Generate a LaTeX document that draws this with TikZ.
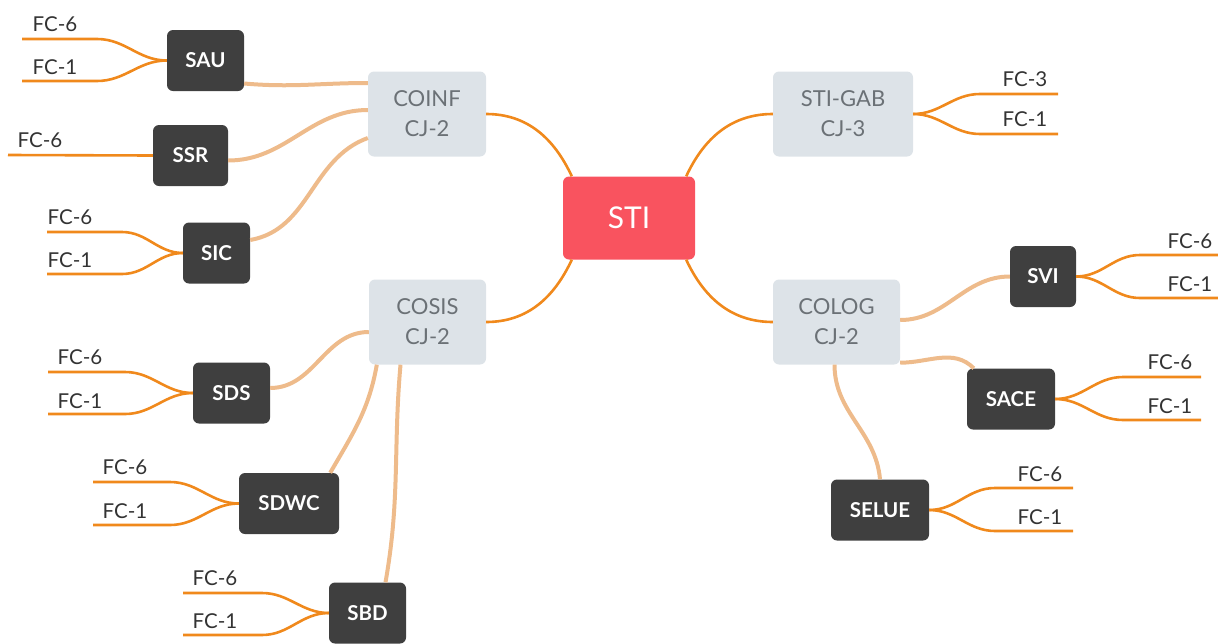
\documentclass[tikz,border=0pt]{standalone}
\usepackage{fontspec}
\setmainfont{Lato}
\definecolor{orng}{HTML}{F0891C}
\definecolor{tan}{HTML}{EEBB8B}
\definecolor{darkbox}{HTML}{3F3F3F}
\definecolor{graybox}{HTML}{DDE3E8}
\definecolor{graytxt}{HTML}{6B7176}
\definecolor{redbox}{HTML}{F9535F}
\definecolor{leaftxt}{HTML}{333333}
\begin{document}
\begin{tikzpicture}[x=1pt,y=-1pt,
  root/.style={fill=redbox,rounded corners=6pt,minimum width=132pt,minimum height=83pt,text=white,font=\fontsize{30}{32}\selectfont},
  mid/.style={fill=graybox,rounded corners=6pt,minimum height=85pt,text=graytxt,align=center,font=\fontsize{22}{30}\selectfont},
  sub/.style={fill=darkbox,rounded corners=6pt,minimum height=61pt,text=white,font=\fontsize{20.5}{22}\selectfont\bfseries},
  main/.style={draw=orng,line width=2.6pt},
  second/.style={draw=tan,line width=4pt},
  leafline/.style={draw=orng,line width=2.6pt},
  lbl/.style={anchor=base,text=leaftxt,inner sep=0pt,font=\fontsize{20.5}{22}\selectfont}
]
\useasboundingbox (0,0) rectangle (1218,643);
% nodes
\node[root] (sti) at (629,218) {STI};
\node[mid,minimum width=118pt] (coinf) at (427,114) {COINF\\CJ-2};
\node[mid,minimum width=140pt] (gab) at (843,114) {STI-GAB\\CJ-3};
\node[mid,minimum width=117pt] (cosis) at (427.5,322) {COSIS\\CJ-2};
\node[mid,minimum width=127pt] (colog) at (836.5,322) {COLOG\\CJ-2};
\node[sub,minimum width=77pt] (sau) at (205.5,60.5) {SAU};
\node[sub,minimum width=75pt] (ssr) at (190.5,155.5) {SSR};
\node[sub,minimum width=67pt] (sic) at (216.5,253) {SIC};
\node[sub,minimum width=77pt] (sds) at (231.5,393) {SDS};
\node[sub,minimum width=100pt] (sdwc) at (289,503.5) {SDWC};
\node[sub,minimum width=77pt] (sbd) at (367.5,613) {SBD};
\node[sub,minimum width=66pt] (svi) at (1043,276.5) {SVI};
\node[sub,minimum width=88pt] (sace) at (1011,399) {SACE};
\node[sub,minimum width=98pt] (selue) at (880,510) {SELUE};
% main connectors
\draw[main] ([xshift=9pt]sti.north west) to[out=115,in=0] (coinf.east);
\draw[main] ([xshift=-9pt]sti.north east) to[out=65,in=180] (gab.west);
\draw[main] ([xshift=9pt]sti.south west) to[out=-115,in=0] (cosis.east);
\draw[main] ([xshift=-9pt]sti.south east) to[out=-65,in=180] (colog.west);
% secondary connectors
\draw[second] ([yshift=-23pt]sau.east) to[out=-5,in=180] ([yshift=31pt]coinf.west);
\draw[second] ([yshift=-5pt]ssr.east) to[out=0,in=180] ([yshift=4pt]coinf.west);
\draw[second] ([yshift=13pt]sic.east) to[out=10,in=200] ([yshift=-24pt]coinf.west);
\draw[second] ([yshift=5pt]sds.east) to[out=0,in=180] ([yshift=-10pt]cosis.west);
\draw[second] ([xshift=-9pt]sdwc.north east) to[out=60,in=-100] ([xshift=8pt]cosis.south west);
\draw[second] ([xshift=18pt]sbd.north) to[out=80,in=-95] ([xshift=-27pt]cosis.south);
\draw[second] ([yshift=2pt]colog.east) to[out=0,in=180] (svi.west);
\draw[second] ([yshift=2pt]colog.south east) to[out=0,in=135] ([xshift=7pt]sace.north west);
\draw[second] ([xshift=-2pt]colog.south) to[out=-90,in=95] (selue.north);
% leaves: left side
\coordinate (a1) at (22,39); \coordinate (a1e) at (97,39);
\coordinate (a2) at (22,81); \coordinate (a2e) at (97,81);
\draw[leafline] (sau.west) to[out=180,in=0] (a1e) -- (a1);
\draw[leafline] (sau.west) to[out=180,in=0] (a2e) -- (a2);
\node[lbl] (a1l) at (55,31) {FC-6};
\node[lbl] (a2l) at (55,74) {FC-1};
\coordinate (b1) at (8,155);
\draw[leafline] (ssr.west) -- (b1);
\node[lbl] (b1l) at (40,147) {FC-6};
\coordinate (c1) at (47,232); \coordinate (c1e) at (122,232);
\coordinate (c2) at (47,274); \coordinate (c2e) at (122,274);
\draw[leafline] (sic.west) to[out=180,in=0] (c1e) -- (c1);
\draw[leafline] (sic.west) to[out=180,in=0] (c2e) -- (c2);
\node[lbl] (c1l) at (70,224) {FC-6};
\node[lbl] (c2l) at (70,267) {FC-1};
\coordinate (d1) at (48,372); \coordinate (d1e) at (125,372);
\coordinate (d2) at (48,414); \coordinate (d2e) at (125,414);
\draw[leafline] (sds.west) to[out=180,in=0] (d1e) -- (d1);
\draw[leafline] (sds.west) to[out=180,in=0] (d2e) -- (d2);
\node[lbl] (d1l) at (80,364) {FC-6};
\node[lbl] (d2l) at (80,408) {FC-1};
\coordinate (e1) at (93,482); \coordinate (e1e) at (170,482);
\coordinate (e2) at (93,525); \coordinate (e2e) at (170,525);
\draw[leafline] (sdwc.west) to[out=180,in=0] (e1e) -- (e1);
\draw[leafline] (sdwc.west) to[out=180,in=0] (e2e) -- (e2);
\node[lbl] (e1l) at (125,474) {FC-6};
\node[lbl] (e2l) at (125,518) {FC-1};
\coordinate (f1) at (183,593); \coordinate (f1e) at (262,593);
\coordinate (f2) at (183,635); \coordinate (f2e) at (262,635);
\draw[leafline] (sbd.west) to[out=180,in=0] (f1e) -- (f1);
\draw[leafline] (sbd.west) to[out=180,in=0] (f2e) -- (f2);
\node[lbl] (f1l) at (215,585) {FC-6};
\node[lbl] (f2l) at (215,628) {FC-1};
% leaves: right side
\coordinate (g1) at (1058,94); \coordinate (g1s) at (980,94);
\coordinate (g2) at (1058,134); \coordinate (g2s) at (980,134);
\draw[leafline] (gab.east) to[out=0,in=180] (g1s) -- (g1);
\draw[leafline] (gab.east) to[out=0,in=180] (g2s) -- (g2);
\node[lbl] (g1l) at (1025,86) {FC-3};
\node[lbl] (g2l) at (1025,126) {FC-1};
\coordinate (h1) at (1218,255); \coordinate (h1s) at (1140,255);
\coordinate (h2) at (1218,298); \coordinate (h2s) at (1140,298);
\draw[leafline] (svi.east) to[out=0,in=180] (h1s) -- (h1);
\draw[leafline] (svi.east) to[out=0,in=180] (h2s) -- (h2);
\node[lbl] (h1l) at (1190,248) {FC-6};
\node[lbl] (h2l) at (1190,291) {FC-1};
\coordinate (i1) at (1201,377); \coordinate (i1s) at (1123,377);
\coordinate (i2) at (1201,420); \coordinate (i2s) at (1123,420);
\draw[leafline] (sace.east) to[out=0,in=180] (i1s) -- (i1);
\draw[leafline] (sace.east) to[out=0,in=180] (i2s) -- (i2);
\node[lbl] (i1l) at (1170,369) {FC-6};
\node[lbl] (i2l) at (1170,413) {FC-1};
\coordinate (j1) at (1073,488); \coordinate (j1s) at (995,488);
\coordinate (j2) at (1073,531); \coordinate (j2s) at (995,531);
\draw[leafline] (selue.east) to[out=0,in=180] (j1s) -- (j1);
\draw[leafline] (selue.east) to[out=0,in=180] (j2s) -- (j2);
\node[lbl] (j1l) at (1040,481) {FC-6};
\node[lbl] (j2l) at (1040,524) {FC-1};
\end{tikzpicture}
\end{document}
